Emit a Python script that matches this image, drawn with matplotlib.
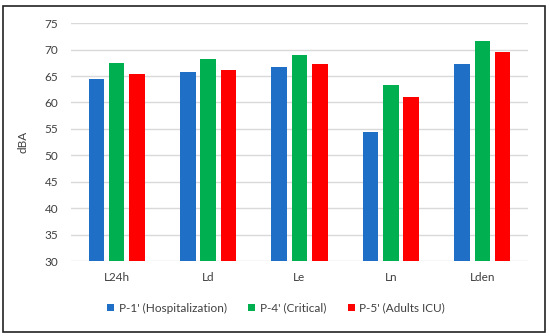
import numpy as np
import matplotlib
matplotlib.use("Agg")
import matplotlib.pyplot as plt
from matplotlib.patches import Rectangle

plt.rcParams['font.family'] = ['Lato', 'DejaVu Sans']

categories = ["L24h", "Ld", "Le", "Ln", "Lden"]
hospitalization = [64.5, 65.7, 66.8, 54.5, 67.3]
critical = [67.5, 68.3, 69.0, 63.4, 71.7]
adults_icu = [65.4, 66.2, 67.3, 61.1, 69.6]

series_labels = ["P-1' (Hospitalization)", "P-4' (Critical)", "P-5' (Adults ICU)"]
colors = ["#1F6FC6", "#00B050", "#FF0000"]
yticks = [30, 35, 40, 45, 50, 55, 60, 65, 70, 75]

text_color = "#404040"

fig = plt.figure(figsize=(5.5, 3.36), dpi=100)
ax = fig.add_axes([0.129, 0.223, 0.831, 0.708])

x = np.arange(len(categories))
width = 0.17
offset = 0.222
for i, (vals, lab, c) in enumerate(zip([hospitalization, critical, adults_icu], series_labels, colors)):
    ax.bar(x + (i - 1) * offset, np.array(vals) - 30, width, bottom=30, color=c, label=lab, zorder=3)

ax.set_xlim(-0.5, len(categories) - 0.5)
ax.set_ylim(30, 75)
ax.set_yticks(yticks)
ax.set_xticks(x)
ax.set_xticklabels(categories)
ax.tick_params(axis='both', length=0, labelsize=8.5, colors=text_color)
ax.tick_params(axis='y', pad=9)
ax.tick_params(axis='x', pad=8)
ax.grid(axis='y', color="#D9D9D9", linewidth=1, zorder=0)
for s in ax.spines.values():
    s.set_visible(False)
ax.set_ylabel("dBA", fontsize=8.5, color=text_color, labelpad=12)

handles, labels = ax.get_legend_handles_labels()
fig.legend(handles, labels, loc='center', bbox_to_anchor=(0.502, 0.083), ncol=3,
           frameon=False, fontsize=8.5, handlelength=0.6, handleheight=0.6,
           handletextpad=0.4, columnspacing=1.8, labelcolor=text_color)

fig.patches.append(Rectangle((3 / 550, 4 / 336), 542 / 550, 326 / 336, transform=fig.transFigure,
                             fill=False, edgecolor="#222222", linewidth=1.2))

fig.savefig("out.png", dpi=100)
